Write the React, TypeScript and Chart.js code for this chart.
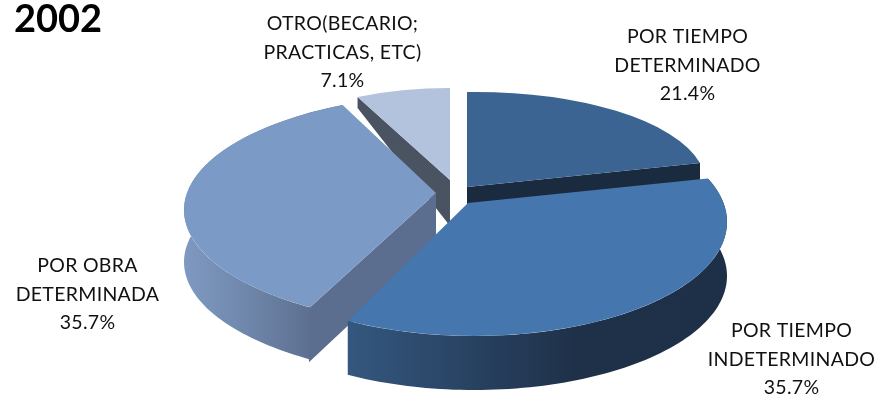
import React, { useEffect, useRef } from "react";
import { Chart, registerables } from "chart.js";

Chart.register(...registerables);

const title = "2002";
const categories = [
  ["POR TIEMPO", "DETERMINADO"],
  ["POR TIEMPO", "INDETERMINADO"],
  ["POR OBRA", "DETERMINADA"],
  ["OTRO(BECARIO;", "PRACTICAS, ETC)"],
];
const shares = [21.4, 35.7, 35.7, 7.1];
const topColors = ["#3b6492", "#4676ae", "#7c9ac6", "#b3c2dd"];

// One projected placement per slice: apex, linear map of the unit circle,
// and (where needed) the perspective ellipse that bounds its rim.
const placements: any[] = [
  { ax: 467, ay: 187, a: 239, b: 0, c: -3, d: 95, rim: null },
  { ax: 468, ay: 203, a: 245, b: -15, c: 5, d: 133, rim: { cx: 474, cy: 222, rx: 253, ry: 114 } },
  { ax: 436, ay: 193, a: 255, b: -18, c: -31, d: 113, rim: { cx: 467, cy: 210, rx: 283, ry: 117 } },
  { ax: 450, ay: 180, a: 214, b: 0, c: 0, d: 92, rim: null },
];
const cutWalls = [
  { edge: "end", apexDepth: 30, rimDepth: 30, color: "#1a2b40" },
  null,
  { edge: "start", apexDepth: 50, rimDepth: 54, color: "#5c6e8f" },
  { edge: "start", apexDepth: 46, rimDepth: 11, color: "#4a5361" },
];
const rimWalls: any[] = [
  null,
  { depth: 54, x0: 349, x1: 727, stops: [[0, "#34577f"], [0.35, "#27405f"], [0.6, "#1f3149"], [1, "#1e3047"]] },
  { depth: 52, x0: 181, x1: 312, stops: [[0, "#7f9ac2"], [0.5, "#6f87ab"], [1, "#5d6f90"]] },
  null,
];
const drawOrder = [3, 0, 2, 1];
const labelSpots = [
  { x: 687.5, y: 37 },
  { x: 791.5, y: 331 },
  { x: 87.5, y: 266 },
  { x: 342.5, y: 24 },
];
const labelFont = "19.5px Lato";
const lineStep = 28.3;
const wedgeOverscan = 1.5;

const pie3d = {
  id: "pie3d",
  beforeDatasetDraw(chart: any, args: any) {
    const ctx = chart.ctx as CanvasRenderingContext2D;
    const arcs = args.meta.data;
    const at = (g: any, t: number) => ({
      x: g.ax + g.a * Math.cos(t) + g.b * Math.sin(t),
      y: g.ay + g.c * Math.cos(t) + g.d * Math.sin(t),
    });
    for (const i of drawOrder) {
      const arc = arcs[i];
      const g = placements[i];
      const rim = rimWalls[i];
      const cut = cutWalls[i];
      const pStart = at(g, arc.startAngle);
      const pEnd = at(g, arc.endAngle);
      if (rim && g.rim) {
        const e = g.rim;
        const grad = ctx.createLinearGradient(rim.x0, 0, rim.x1, 0);
        rim.stops.forEach((s: any) => grad.addColorStop(s[0], s[1]));
        const phi0 = Math.atan2((pStart.y - e.cy) / e.ry, (pStart.x - e.cx) / e.rx);
        let phi1 = Math.atan2((pEnd.y - e.cy) / e.ry, (pEnd.x - e.cx) / e.rx);
        if (phi1 < phi0) phi1 += Math.PI * 2;
        ctx.fillStyle = grad;
        ctx.beginPath();
        const n = 90;
        const pt = (k: number) => {
          const f = phi0 + ((phi1 - phi0) * k) / n;
          return { x: e.cx + e.rx * Math.cos(f), y: e.cy + e.ry * Math.sin(f) };
        };
        for (let k = 0; k <= n; k++) {
          const p = pt(k);
          k === 0 ? ctx.moveTo(p.x, p.y) : ctx.lineTo(p.x, p.y);
        }
        for (let k = n; k >= 0; k--) {
          const p = pt(k);
          ctx.lineTo(p.x, p.y + rim.depth);
        }
        ctx.closePath();
        ctx.fill();
      }
      if (cut) {
        const p = cut.edge === "end" ? pEnd : pStart;
        ctx.fillStyle = cut.color;
        ctx.beginPath();
        ctx.moveTo(g.ax, g.ay);
        ctx.lineTo(p.x, p.y);
        ctx.lineTo(p.x, p.y + cut.rimDepth);
        ctx.lineTo(g.ax, g.ay + cut.apexDepth);
        ctx.closePath();
        ctx.fill();
      }
      ctx.save();
      if (g.rim) {
        ctx.beginPath();
        ctx.ellipse(g.rim.cx, g.rim.cy, g.rim.rx, g.rim.ry, 0, 0, Math.PI * 2);
        ctx.clip();
      }
      const r = arc.outerRadius / (g.rim ? wedgeOverscan : 1);
      ctx.translate(g.ax, g.ay);
      ctx.transform(g.a / r, g.c / r, g.b / r, g.d / r, 0, 0);
      ctx.translate(-arc.x, -arc.y);
      arc.draw(ctx);
      ctx.restore();
    }
    return false;
  },
  afterDraw(chart: any) {
    const ctx = chart.ctx as CanvasRenderingContext2D;
    ctx.save();
    ctx.font = labelFont;
    (ctx as any).letterSpacing = "0.3px";
    ctx.fillStyle = "#111111";
    ctx.textAlign = "center";
    ctx.textBaseline = "middle";
    categories.forEach((lines, i) => {
      const spot = labelSpots[i];
      [...lines, shares[i].toFixed(1) + "%"].forEach((line, k) => {
        ctx.fillText(line, spot.x, spot.y + k * lineStep);
      });
    });
    ctx.restore();
  },
};

export default function App() {
  const ref = useRef<HTMLCanvasElement>(null);
  useEffect(() => {
    const chart = new Chart(ref.current as HTMLCanvasElement, {
      type: "pie",
      data: {
        labels: categories.map((c) => c.join(" ")),
        datasets: [
          {
            data: shares,
            backgroundColor: topColors,
            borderWidth: 0,
          },
        ],
      },
      options: {
        responsive: false,
        animation: false,
        events: [],
        layout: { padding: { left: 14, top: 0 } },
        plugins: {
          legend: { display: false },
          tooltip: { enabled: false },
          title: {
            display: true,
            text: title,
            align: "start",
            color: "#000000",
            font: { family: "Lato", size: 38, weight: "bold" },
            padding: { top: -3, bottom: 4 },
          },
        },
      },
      plugins: [pie3d],
    } as any);
    return () => chart.destroy();
  }, []);
  return (
    <div style={{ position: "absolute", left: 0, top: 0, width: 879, height: 396, background: "#fff" }}>
      <canvas ref={ref} width={879} height={396} style={{ display: "block" }} />
    </div>
  );
}
